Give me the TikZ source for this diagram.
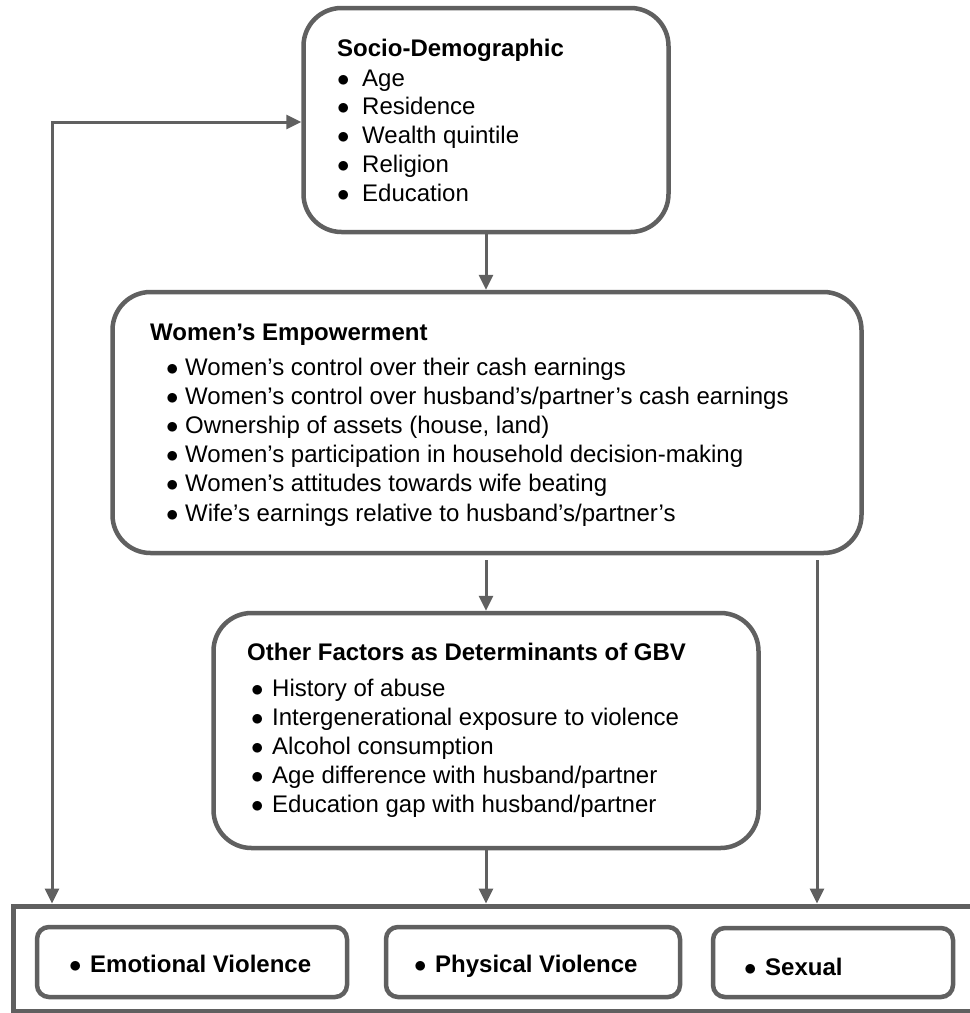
\documentclass[tikz,border=0pt]{standalone}
\usepackage{graphicx}
\usepackage{fontspec}
\setmainfont{Liberation Sans}
\usetikzlibrary{arrows.meta}
\definecolor{ln}{HTML}{606060}
\newcommand{\bulx}[1]{\makebox[#1][l]{$\bullet$}}
\begin{document}
\begin{tikzpicture}[x=1pt,y=-1pt,
  >={Triangle[length=15pt,width=14pt]},
  box/.style={draw=ln, line width=4.5pt, rounded corners=38pt, fill=white, inner sep=0pt},
  vbox/.style={draw=ln, line width=4.5pt, rounded corners=12pt, fill=white, inner sep=0pt},
  txt/.style={anchor=base west, inner sep=0pt, font=\fontsize{24}{29}\selectfont},
  ttl/.style={txt, font=\fontsize{24}{29}\selectfont\bfseries},
  arr/.style={draw=ln, line width=3pt, ->},
  frame/.style={draw=ln, line width=5pt},
]
\useasboundingbox (0,0) rectangle (970,1013);

% boxes
\node[box, minimum width=365pt, minimum height=224pt] (sd) at (486,120) {};
\node[box, minimum width=749pt, minimum height=261pt] (we) at (487,422.5) {};
\node[box, minimum width=545pt, minimum height=235pt] (of) at (486,730.5) {};

% bottom frame
\coordinate (frTR) at (975,906);
\coordinate (frTL) at (13,906);
\coordinate (frBL) at (13,1011);
\coordinate (frBR) at (975,1011);
\draw[frame] (frTR) -- (frTL) -- (frBL) -- (frBR);

\node[vbox, minimum width=310pt, minimum height=70pt] (ev) at (192,962) {};
\node[vbox, minimum width=294pt, minimum height=70pt] (pv) at (533,962) {};
\node[vbox, minimum width=240pt, minimum height=69pt] (sx) at (833,962.5) {};

% texts: socio-demographic
\node[ttl] (sdt) at (337,56) {Socio-Demographic};
\foreach \t [count=\i from 0] in {Age,Residence,Wealth quintile,Religion,Education}
  \node[txt] (sd\i) at (337,86+28.8*\i) {\bulx{25pt}\t};

% women's empowerment
\node[ttl] (wet) at (150,340) {Women’s Empowerment};
\foreach \t [count=\i from 0] in {%
  Women’s control over their cash earnings,
  Women’s control over husband’s/partner’s cash earnings,
  {Ownership of assets (house, land)},
  Women’s participation in household decision-making,
  Women’s attitudes towards wife beating,
  Wife’s earnings relative to husband’s/partner’s}
  \node[txt] (we\i) at (166,375+29.2*\i) {\bulx{19pt}\t};

% other factors
\node[ttl] (oft) at (247,660) {Other Factors as Determinants of GBV};
\foreach \t [count=\i from 0] in {%
  History of abuse,
  Intergenerational exposure to violence,
  Alcohol consumption,
  Age difference with husband/partner,
  Education gap with husband/partner}
  \node[txt] (of\i) at (251,696+29.2*\i) {\bulx{21pt}\t};

% bottom texts
\node[txt] (evt) at (69,972) {\bulx{21pt}\textbf{Emotional Violence}};
\node[txt] (pvt) at (414,972) {\bulx{21pt}\textbf{Physical Violence}};
\node[txt] (sxt) at (744,975) {\bulx{21pt}\textbf{Sexual}};

% arrow targets on the frame
\coordinate (tA) at (52,903.5);
\coordinate (tB) at (486,903.5);
\coordinate (tC) at (817,903.5);

% connectors
\draw[arr] (sd.south) -- (we.north -| sd.south);
\draw[arr] ([yshift=-5pt]we.south -| of.north) -- (of.north);
\draw[arr] ([yshift=-5pt]we.south -| tC) -- (tC);
\draw[arr] (of.south) -- (tB);
\draw[arr, <->] (tA) |- ([yshift=-2pt]sd.west);
\end{tikzpicture}
\end{document}
